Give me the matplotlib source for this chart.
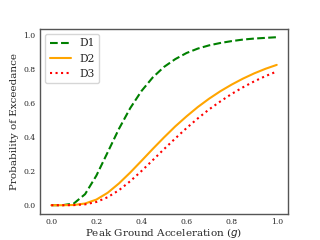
import matplotlib
matplotlib.use("Agg")
import matplotlib.pyplot as plt
import seaborn as sns

pga = [0.0, 0.05, 0.10, 0.15, 0.20, 0.25, 0.30, 0.35, 0.40, 0.45, 0.50,
       0.55, 0.60, 0.65, 0.70, 0.75, 0.80, 0.85, 0.90, 0.95, 1.00]
d1 = [0.0, 0.0001, 0.010, 0.065, 0.174, 0.311, 0.449, 0.571, 0.672, 0.752, 0.814,
      0.860, 0.896, 0.922, 0.941, 0.955, 0.966, 0.975, 0.981, 0.985, 0.989]
d2 = [0.0, 0.0, 0.0012, 0.010, 0.033, 0.073, 0.128, 0.192, 0.261, 0.331, 0.399,
      0.464, 0.523, 0.578, 0.627, 0.671, 0.710, 0.745, 0.776, 0.803, 0.826]
d3 = [0.0, 0.0, 0.0005, 0.005, 0.019, 0.047, 0.088, 0.141, 0.201, 0.265, 0.330,
      0.393, 0.454, 0.511, 0.564, 0.611, 0.655, 0.694, 0.729, 0.760, 0.787]

sns.set_style("white")
plt.rcParams['font.family'] = ['DejaVu Serif']

fig, ax = plt.subplots(figsize=(3.2, 2.4), dpi=100)
ax.plot(pga, d1, color='green', linestyle='--', linewidth=1.5, label='D1')
ax.plot(pga, d2, color='orange', linestyle='-', linewidth=1.5, label='D2')
ax.plot(pga, d3, color='red', linestyle=':', linewidth=1.5, label='D3')
ax.set_xlabel('Peak Ground Acceleration ($g$)', fontsize=7.5, labelpad=0.3)
ax.set_ylabel('Probability of Exceedance', fontsize=7.5, labelpad=3)
ax.tick_params(labelsize=5.5, pad=3.2, length=0)
for s in ax.spines.values():
    s.set_edgecolor('#555555')
    s.set_linewidth(1.0)
ax.legend(loc='upper left', fontsize=7.7)
fig.savefig('out.png', dpi=100)
